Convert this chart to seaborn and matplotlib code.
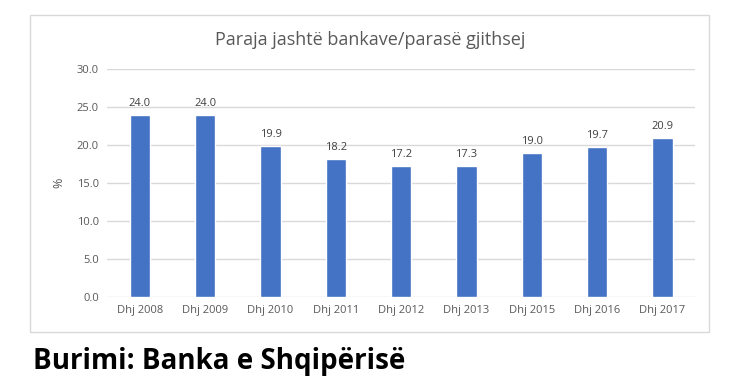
import matplotlib
matplotlib.use("Agg")
import matplotlib.pyplot as plt
import seaborn as sns
import pandas as pd
from matplotlib.patches import Rectangle

# Data
periods = ["Dhj 2008", "Dhj 2009", "Dhj 2010", "Dhj 2011", "Dhj 2012",
           "Dhj 2013", "Dhj 2015", "Dhj 2016", "Dhj 2017"]
shares = [24.0, 24.0, 19.9, 18.2, 17.2, 17.3, 19.0, 19.7, 20.9]
yticks = [0, 5, 10, 15, 20, 25, 30]

df = pd.DataFrame({"period": periods, "share": shares})

sns.set_theme(style="white")
plt.rcParams["font.family"] = ["Open Sans", "DejaVu Sans"]

text_grey = "#595959"
grid_grey = "#d9d9d9"

fig = plt.figure(figsize=(7.5, 3.8), dpi=100)
ax = fig.add_axes([0.143, 0.218, 0.784, 0.600])

sns.barplot(data=df, x="period", y="share", color="#4472C4", width=0.31,
            saturation=1, ax=ax, zorder=3)

for i, v in enumerate(shares):
    ax.text(i, v + 0.8, f"{v:.1f}", ha="center", va="bottom",
            fontsize=8, color="#404040")

ax.set_ylim(0, 30)
ax.set_yticks(yticks)
ax.set_yticklabels([f"{t:.1f}" for t in yticks])
ax.set_xlim(-0.5, len(periods) - 0.5)
ax.yaxis.grid(True, color=grid_grey, linewidth=1, zorder=0)
ax.tick_params(axis="both", colors=text_grey, labelsize=8, length=0, pad=6)
ax.set_xlabel("")
ax.set_ylabel("%", color=text_grey, fontsize=9, labelpad=8)
for s in ax.spines.values():
    s.set_visible(False)

fig.text(0.493, 0.895, "Paraja jashtë bankave/parasë gjithsej",
         ha="center", va="center", fontsize=13, color=text_grey)

# chart frame
fig.add_artist(Rectangle((30 / 750, 1 - 332 / 380), 679 / 750, 317 / 380,
                         transform=fig.transFigure, fill=False,
                         edgecolor="#d9d9d9", linewidth=1))

fig.text(33 / 750, 1 - 369 / 380, "Burimi: Banka e Shqipërisë",
         ha="left", va="baseline", fontsize=20, fontweight="bold",
         color="black", family=["Open Sans", "DejaVu Sans"])

fig.savefig("out.png", dpi=100)
